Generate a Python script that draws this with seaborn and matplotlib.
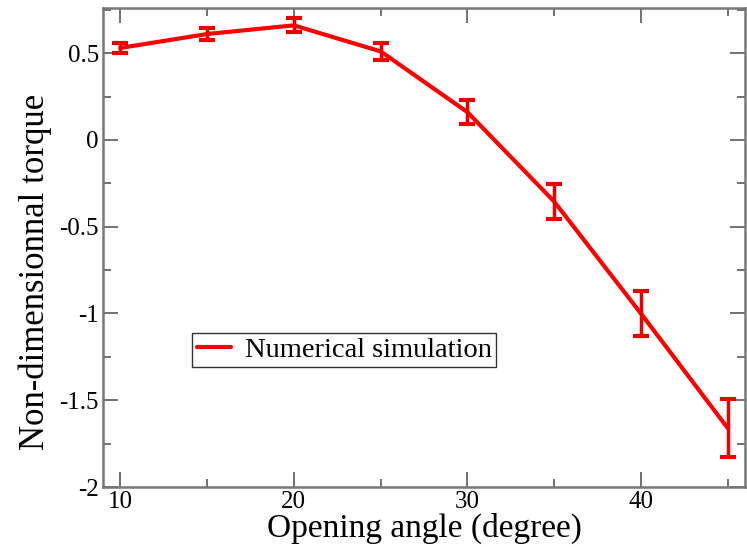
import matplotlib
matplotlib.use("Agg")
import matplotlib.pyplot as plt
import seaborn as sns
import pandas as pd
from matplotlib.ticker import MultipleLocator

angles = [10, 15, 20, 25, 30, 35, 40, 45]
torque = [0.53, 0.61, 0.66, 0.51, 0.16, -0.355, -1.0, -1.66]
errors = [0.03, 0.035, 0.04, 0.05, 0.07, 0.10, 0.13, 0.165]
series_label = "Numerical simulation"

sns.set_style("ticks")
plt.rcParams['font.family'] = ['Liberation Serif', 'DejaVu Serif']
plt.rcParams['text.color'] = 'black'
plt.rcParams['axes.labelcolor'] = 'black'

df = pd.DataFrame({"angle": angles, "torque": torque})

fig = plt.figure(figsize=(7.47, 5.47), dpi=100)
ax = fig.add_axes([103/747, 1-487/547, (745-103)/747, (487-8)/547])

sns.lineplot(data=df, x="angle", y="torque", ax=ax, color="#ff0000",
             linewidth=3, label=series_label)
ax.errorbar(angles, torque, yerr=errors, fmt="none", ecolor="#ee0000",
            elinewidth=2.5, capsize=6, capthick=3)

ax.set_xlim(9, 46)
ax.set_ylim(-2, 0.76)
ax.xaxis.set_major_locator(MultipleLocator(10))
ax.xaxis.set_minor_locator(MultipleLocator(5))
ax.yaxis.set_major_locator(MultipleLocator(0.5))
ax.yaxis.set_minor_locator(MultipleLocator(0.25))
ax.tick_params(which="both", direction="in", top=True, right=True,
               labelsize=18, colors="#666666", labelcolor="black")
ax.tick_params(which="major", length=11, width=1.3, pad=3)
ax.tick_params(which="minor", length=6, width=1.3)

def fmt(v, pos):
    return "%g" % v
ax.yaxis.set_major_formatter(plt.FuncFormatter(fmt))

for sp in ax.spines.values():
    sp.set_color("#777777")
    sp.set_linewidth(1.8)

ax.set_xlabel("Opening angle (degree)", fontsize=24, labelpad=0)
ax.set_ylabel("Non-dimensionnal torque", fontsize=25)
ax.yaxis.set_label_coords(-0.08, 0.449)

leg = ax.legend(loc="lower left", bbox_to_anchor=(0.139, 0.25), fontsize=20.5,
                frameon=True, fancybox=False, edgecolor="black",
                handlelength=1.2, handletextpad=0.5, borderpad=0.15,
                borderaxespad=0)
leg.get_frame().set_linewidth(1.0)

fig.savefig("out.png", dpi=100)
